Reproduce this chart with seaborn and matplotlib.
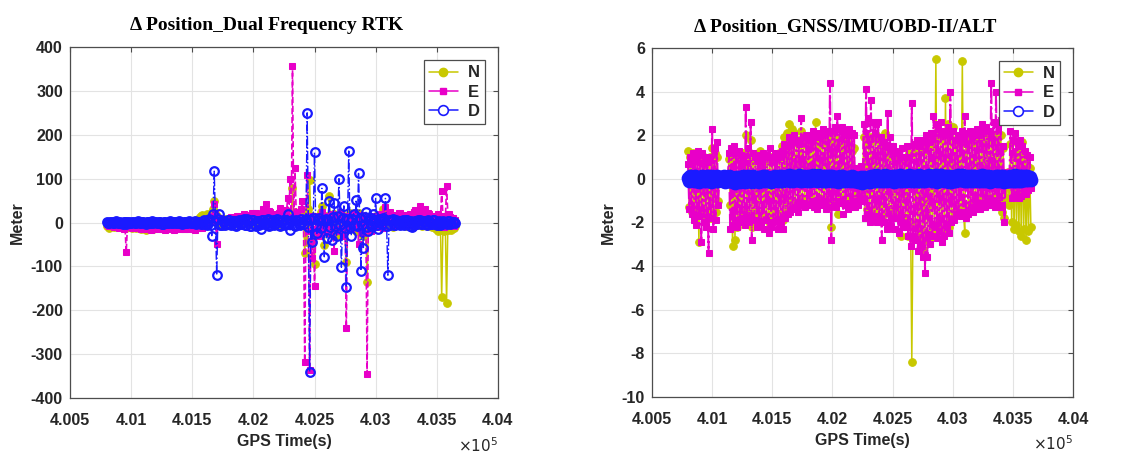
import numpy as np
import pandas as pd
import matplotlib
matplotlib.use("Agg")
import matplotlib.pyplot as plt
import seaborn as sns
from matplotlib.lines import Line2D
from matplotlib.ticker import FuncFormatter, MultipleLocator

# Dual frequency RTK position error (m), one sample every 10 s from 400800 s
rtk_n = [-8, -4, -12, -6, -5, -9, -10, -3, -7, -11, -11, -5, -6, -8, -9, -12, -12, -6, -8, -10,
         -10, -13, -7, -9, -12, -5, -9, -11, -14, -7, -8, -12, -17, -9, -12, -6, -10, -14, -15, -8,
         -9, -11, -12, -6, -8, -13, -11, -7, -7, -10, -10, -5, -13, -9, -8, -12, -9, -6, -11, -9,
         -7, -9, -10, -4, -6, -8, -9, -3, -5, -7, -8, -2, -4, 2, 5, 9, 12, 15, 18, 10,
         10, 14, 20, 6, 8, 15, 25, 30, 50, 22, 15, 4, 5, -3, 8, 2, 3, 7, 6, -2,
         2, 6, 5, -4, -3, 3, 4, -1, 0, 5, 6, -2, -2, 4, 3, 7, 5, -3, -4, 2,
         4, -3, 2, 5, 6, 1, -3, 4, 5, 9, 8, -2, 3, 6, -2, 2, 4, 7, 10, 3,
         5, -3, 8, 12, 3, 6, 12, 20, 20, 9, 6, 15, 78, 22, 25, 10, 18, 4, 5, 12,
         5, 20, -70, -10, -45, 30, 97, 12, 15, -20, -95, 8, 8, -15, -20, 25, 37, -10, -52, 15,
         10, -20, 60, 5, -15, 20, 20, -12, -30, 10, 12, -18, -25, 8, 15, -20, -90, 5, 8, 22,
         -10, 5, 18, -15, -20, 10, 22, -8, 10, -22, -30, 6, 5, -135, -20, 12, 12, -5, -8, 10,
         15, -6, -5, 12, 10, 20, 30, 4, 8, -8, -6, 10, 5, -4, -10, 7, 6, -5, -4, 6,
         8, -4, -6, 5, 5, -7, -8, 4, 7, -5, -3, 6, 6, -4, -5, 5, 4, -6, -7, 3,
         5, -5, -8, 4, 3, -9, -10, 2, 6, -14, -12, -20, -15, -12, -170, -18, -20, -14, -183, -16,
         -15, -10, -18, -12, -12, -8]
rtk_e = [-3, -6, -8, -2, -5, -9, -10, -4, -6, -11, -12, -5, -8, -10, -14, -6, -68, -9, -10, -5,
         -9, -12, -13, -6, -7, -11, -12, -8, -15, -10, -9, -13, -14, -8, -10, -12, -16, -11, -8, -14,
         -12, -9, -15, -11, -10, -14, -13, -8, -16, -12, -9, -15, -14, -10, -12, -16, -15, -9, -11, -13,
         -14, -11, -10, -15, -15, -9, -12, -14, -9, -11, -13, -15, -16, -8, -10, -12, -8, -4, -12, -6,
         -5, -2, 3, 6, 8, 2, 15, 5, 42, 20, -50, 6, 10, 4, 5, 9, 8, 2, 3, 7,
         6, 10, 12, 3, 4, 9, 10, 14, 15, 6, 8, 12, 20, 7, 5, 15, 12, 8, 18, 22,
         10, 14, 22, 9, 8, 16, 15, 20, 30, 12, 42, 18, 12, 26, 25, 14, 10, 18, 20, 8,
         15, 22, 32, 12, 10, 18, 28, 20, 55, 8, 100, 12, 357, 10, 125, 25, 20, 5, 12, 30,
         48, 8, -318, 10, 108, -20, -335, 15, -80, 10, -145, -15, 15, -10, -30, 12, 25, -8, -20, 15,
         10, -12, -25, 8, 20, -10, -65, 12, 15, -15, -20, 8, 25, -12, -30, 10, -240, 15, 12, -10,
         -15, 10, 20, -8, -10, 15, -50, 5, 18, -10, -25, 12, 10, -345, 12, -15, -20, 10, 15, -8,
         15, -6, -10, 12, 20, 5, -12, 18, 35, 10, 8, 20, 25, 6, -5, 14, 18, 8, 10, 22,
         22, 10, 6, 18, 15, 8, -5, 12, 20, 15, 12, 25, 28, 14, 8, 20, 38, 22, 14, 10,
         30, 15, 10, 22, 20, 8, 5, 15, 15, 10, 8, 20, 12, 10, 73, 15, -10, 8, 83, 20,
         20, 12, 5, 10, -8, 6]
rtk_d = [1, -1, -2, 2, 2, 0, -1, 1, 3, -2, -2, 1, 0, -3, 2, 1, -3, 2, 1, -1,
         -1, 2, 2, -2, -2, 1, 3, 0, -1, 2, 1, -2, -3, 1, 2, -1, 0, 3, -2, 1,
         2, -2, -1, 1, 1, -3, -3, 2, 2, -1, -2, 1, 3, -2, -1, 2, 1, -2, -2, 3,
         2, -1, -3, 2, 1, -2, -1, 3, 2, -1, -2, 2, 3, -3, -1, 2, 2, -3, -4, 4,
         5, -3, -6, 4, 8, -5, -30, 20, 117, 4, -120, 8, 20, -6, -5, 3, 4, -5, -3, 6,
         6, -4, -5, 3, 3, -6, -8, 4, 5, -3, -4, 6, 7, -5, -6, 8, 4, -7, -9, 5,
         5, -6, -7, 4, 3, -5, -15, 6, 6, -3, -4, 5, 8, -9, -6, 4, 5, -6, -3, 7,
         4, -5, -8, 3, 6, -4, -5, 6, 20, -3, -17, 4, 5, -6, -8, 5, 3, -4, -6, 8,
         2, -3, 5, 8, 250, -10, -340, 5, -45, 10, 160, -8, -25, 6, 10, -12, 78, 5, -78, 8,
         -35, 6, 50, -10, -40, 12, 45, -8, -30, 15, 100, -5, -102, 10, 38, -12, -148, 8, 163, -10,
         -30, 8, 20, -5, 52, -8, 112, 10, -110, -6, -57, 12, 25, -10, -20, 6, 10, -8, 20, 5,
         55, -6, -15, 8, 5, -4, 10, 6, 55, -8, -120, 5, -5, 4, 8, -6, -6, 5, 4, -3,
         -5, 4, 6, -6, -4, 5, 5, -3, -7, 4, -10, -6, 4, 3, -3, 5, 5, -4, -4, 3,
         3, -4, -5, 6, 4, -3, -3, 5, 5, -4, -6, 2, 3, -5, -4, 3, 2, -2, -3, 4,
         4, -3, -2, 2, 1, -1]

# GNSS/IMU/OBD-II/ALT integrated position error (m), same epochs
fused_n = [1.3, -1.3, 1.0, -1.5, 1.2, -1.6, 0.9, -1.4, 0.8, -2.9, 1.0, -1.6, 1.1, -1.4, 0.7, -1.9, 0.9, -1.5, 1.0, -1.8,
           1.4, -1.8, 1.2, -1.5, 1.0, -1.0, 0.1, -0.1, 0.12, -0.1, 0.1, -0.12, 0.1, -0.1, 0.9, -1.2, 1.0, -3.1, 0.9, -2.8,
           1.0, -2.2, 0.9, -1.9, 1.1, -1.6, 1.2, -1.5, 2.0, -1.6, 1.3, -1.7, 1.8, -2.2, 0.8, -1.5, 0.9, -1.7, 0.8, -1.6,
           1.3, -1.6, 0.7, -1.8, 0.9, -1.7, 0.8, -2.0, 1.0, -1.6, 0.9, -1.7, 1.1, -1.5, 0.9, -1.7, 1.2, -1.6, 1.5, -1.9,
           1.9, -1.5, 2.1, -1.2, 2.5, -1.2, 2.3, -1.0, 2.1, -1.1, 1.7, -1.1, 1.8, -1.0, 2.2, -0.9, 1.6, -1.0, 1.8, -0.9,
           1.6, -0.8, 1.8, -1.0, 1.9, -1.1, 2.6, -1.0, 1.5, -0.9, 1.7, -1.1, 1.6, -0.9, 1.8, -1.0, 1.9, -1.1, 1.7, -2.2,
           1.7, -1.2, 1.9, -1.1, 1.6, -1.6, 1.6, -0.9, 1.8, -1.1, 1.4, -1.0, 1.5, -0.9, 1.6, -1.2, 1.3, -0.8, 1.4, -1.0,
           0.4, -0.6, 0.5, -0.6, 0.3, -0.5, 1.9, -0.6, 2.0, -1.4, 1.7, -1.6, 1.9, -1.5, 1.8, -1.4, 2.0, -1.3, 1.9, -1.2,
           1.7, -1.9, 1.4, -1.6, 2.1, -1.5, 1.0, -1.4, 1.2, -1.6, 1.3, -1.5, 1.0, -1.4, 0.9, -1.7, 0.8, -2.6, 0.9, -1.8,
           0.8, -1.8, 1.0, -2.6, 1.2, -2.0, -8.4, -2.0, 1.2, -2.2, 1.5, -2.7, 1.3, -2.4, 1.5, -3.2, 1.3, -2.8, 1.6, -2.7,
           1.5, -2.7, 1.6, -2.4, 1.9, -2.1, 5.5, -2.1, 1.9, -2.3, 1.8, -2.3, 2.0, -2.4, 3.7, -2.4, 2.5, -2.2, 2.3, -1.9,
           2.4, -1.5, 1.7, -1.2, 1.9, -1.4, 1.6, -1.3, 5.4, -1.5, -2.5, 1.9, 1.7, -1.4, 1.6, -1.1, 1.8, -1.2, 1.6, -1.1,
           1.8, -0.9, 1.9, -1.1, 1.7, -0.9, 2.2, -0.8, 2.1, -1.0, 1.8, -0.9, 1.9, -1.1, 2.0, -0.8, 1.7, -1.0, 1.9, -1.0,
           2.0, -1.5, 1.4, -1.8, 0.2, -0.9, 0.3, -1.2, 1.6, -2.0, 1.2, -2.3, 1.0, -2.1, 0.9, -2.4, 1.2, -2.6, 1.7, -2.3,
           0.8, -2.8, 0.6, -2.4, 0.5, -2.2]
fused_e = [0.7, -1.4, 1.0, -1.6, 1.2, -1.9, 0.9, -2.1, 1.3, -1.7, 1.1, -2.9, 1.2, -2.0, 0.8, -2.2, 1.0, -3.4, 0.9, -1.8,
           2.3, -2.3, 1.4, -1.9, 1.7, -1.2, 0.12, -0.1, 0.15, -0.12, 0.1, -0.15, 0.12, -0.1, 1.2, -2.3, 1.4, -2.1, 1.5, -1.9,
           1.2, -2.2, 1.3, -2.0, 1.1, -1.8, 1.0, -2.1, 3.3, -1.8, 1.4, -2.0, 2.6, -2.8, 1.2, -1.9, 1.0, -2.2, 1.1, -2.0,
           0.9, -2.1, 1.2, -2.3, 1.0, -1.9, 1.1, -2.5, 1.4, -2.2, 1.0, -2.0, 1.2, -1.9, 1.1, -2.3, 1.0, -2.0, 1.3, -2.3,
           1.6, -1.8, 1.5, -1.6, 1.9, -1.5, 1.7, -1.4, 2.0, -1.3, 1.8, -1.5, 1.6, -1.2, 2.8, -1.1, 1.9, -1.3, 2.0, -1.2,
           1.8, -1.2, 2.0, -1.0, 2.2, -1.3, 1.9, -1.4, 2.1, -1.1, 1.9, -1.2, 2.3, -1.0, 2.0, -1.4, 2.2, -1.3, 4.4, -2.8,
           2.2, -1.2, 2.4, -1.3, 2.9, -1.0, 2.3, -1.1, 2.4, -1.6, 2.2, -1.2, 2.0, -1.4, 2.3, -1.3, 2.1, -1.0, 2.0, -1.3,
           0.5, -1.2, 0.4, -0.9, 0.6, -1.0, 2.5, -1.8, 4.1, -1.6, 2.8, -2.0, 3.6, -1.7, 2.6, -1.9, 2.5, -2.0, 2.6, -1.7,
           1.9, -2.8, 1.7, -2.0, 1.5, -2.3, 3.0, -2.1, 1.9, -1.8, 1.5, -2.3, 1.3, -1.8, 1.2, -2.5, 1.0, -2.0, 1.4, -2.2,
           1.0, -2.2, 1.5, -2.6, 1.0, -3.1, 3.5, -2.6, 1.6, -2.8, 1.8, -3.3, 1.5, -3.0, 1.8, -3.6, 1.7, -4.3, 2.0, -3.6,
           1.7, -3.0, 2.1, -2.6, 2.9, -2.2, 2.5, -2.7, 2.3, -2.4, 2.6, -2.9, 2.2, -2.6, 2.0, -2.2, 2.4, -2.5, 4.0, -2.0,
           2.2, -1.9, 1.8, -1.6, 2.0, -1.5, 1.8, -1.7, 2.2, -1.5, 2.9, -1.8, 2.1, -1.6, 2.2, -1.3, 1.9, -1.5, 2.0, -1.4,
           2.3, -1.2, 2.0, -1.4, 2.5, -1.1, 2.2, -1.3, 2.4, -1.0, 2.2, -1.2, 4.4, -1.0, 2.6, -1.3, 4.0, -1.1, 2.5, -1.3,
           2.7, -1.2, 1.5, -2.0, 0.3, -0.2, 0.25, -0.3, 2.2, -0.9, 1.8, -0.8, 2.1, -0.7, 1.6, -0.9, 1.8, -0.8, 1.5, -0.6,
           1.3, -0.7, 1.1, -0.5, 1.0, -0.4]
fused_d = [0.05, -0.10, 0.12, -0.06, 0.10, -0.12, 0.14, -0.08, 0.06, -0.14, 0.10, -0.05, 0.12, -0.10, 0.08, -0.12, 0.15, -0.06, 0.10, -0.15,
           0.12, -0.08, 0.06, -0.12, 0.14, -0.10, 0.08, -0.05, 0.10, -0.12, 0.12, -0.14, 0.06, -0.10, 0.14, -0.08, 0.10, -0.16, 0.05, -0.18,
           0.08, -0.12, 0.10, -0.16, 0.06, -0.10, 0.12, -0.14, 0.10, -0.08, 0.14, -0.12, 0.08, -0.15, 0.12, -0.10, 0.04, -0.12, 0.10, -0.14,
           0.10, -0.06, 0.12, -0.08, 0.14, -0.12, 0.08, -0.10, 0.06, -0.14, 0.10, -0.10, 0.12, -0.06, 0.10, -0.08, 0.15, -0.10, 0.12, -0.08,
           0.10, -0.06, 0.14, -0.05, 0.16, -0.10, 0.12, -0.08, 0.14, -0.04, 0.10, -0.06, 0.18, -0.08, 0.12, -0.10, 0.14, -0.06, 0.10, -0.08,
           0.12, -0.10, 0.14, -0.06, 0.16, -0.05, 0.12, -0.08, 0.18, -0.06, 0.14, -0.08, 0.10, -0.12, 0.12, -0.10, 0.15, -0.06, 0.12, -0.08,
           0.12, -0.10, 0.10, -0.12, 0.08, -0.14, 0.12, -0.12, 0.14, -0.08, 0.10, -0.10, 0.10, -0.06, 0.08, -0.10, 0.12, -0.12, 0.10, -0.10,
           0.06, -0.14, 0.04, -0.16, 0.08, -0.18, 0.10, -0.16, 0.05, -0.14, 0.10, -0.14, 0.12, -0.10, 0.14, -0.10, 0.16, -0.08, 0.12, -0.08,
           0.14, -0.10, 0.12, -0.12, 0.18, -0.08, 0.14, -0.06, 0.10, -0.10, 0.12, -0.14, 0.14, -0.12, 0.12, -0.08, 0.16, -0.10, 0.14, -0.10,
           0.12, -0.08, 0.10, -0.06, 0.18, -0.08, 0.14, -0.10, 0.12, -0.10, 0.14, -0.08, 0.16, -0.10, 0.14, -0.12, 0.10, -0.08, 0.12, -0.06,
           0.18, -0.06, 0.14, -0.08, 0.12, -0.10, 0.16, -0.14, 0.14, -0.12, 0.16, -0.06, 0.10, -0.08, 0.14, -0.12, 0.12, -0.14, 0.14, -0.16,
           0.10, -0.10, 0.12, -0.08, 0.16, -0.06, 0.14, -0.06, 0.18, -0.08, 0.14, -0.10, 0.12, -0.10, 0.14, -0.08, 0.12, -0.08, 0.14, -0.06,
           0.10, -0.08, 0.12, -0.12, 0.16, -0.10, 0.14, -0.08, 0.12, -0.10, 0.12, -0.14, 0.10, -0.12, 0.10, -0.06, 0.12, -0.08, 0.14, -0.10,
           0.12, -0.12, 0.14, -0.16, 0.08, -0.12, 0.10, -0.10, 0.14, -0.08, 0.12, -0.12, 0.16, -0.10, 0.14, -0.08, 0.12, -0.08, 0.14, -0.06,
           0.14, -0.06, 0.12, -0.04, 0.10, -0.05]

T0, DT = 400800, 10
gps_time = T0 + DT * np.arange(len(rtk_n))
for series in (rtk_e, rtk_d, fused_n, fused_e, fused_d):
    assert len(series) == len(gps_time), len(series)

titles = ["Δ Position_Dual Frequency RTK", "Δ Position_GNSS/IMU/OBD-II/ALT"]
x_label = "GPS Time(s)"
y_label = "Meter"
components = ["N", "E", "D"]

N_COLOR = "#c8c800"
E_COLOR = "#e800c8"
D_COLOR = "#1a1aff"
INK = "#262626"
FRAME = "#4d4d4d"

sns.set_theme(style="whitegrid")
plt.rcParams["font.family"] = ["Liberation Sans", "DejaVu Sans"]
plt.rcParams["axes.edgecolor"] = FRAME
plt.rcParams["axes.linewidth"] = 0.9
plt.rcParams["grid.color"] = "#e3e3e3"
plt.rcParams["grid.linewidth"] = 0.8

fig = plt.figure(figsize=(11.41, 4.54), dpi=100)
fig.patch.set_facecolor("white")
ax_rtk = fig.add_axes([0.0613, 0.1233, 0.3751, 0.7731])
ax_fus = fig.add_axes([0.5714, 0.1256, 0.3690, 0.7687])


def draw_panel(ax, n, e, d, styles, e_lw, dsize, dmew):
    df = pd.DataFrame({"t": gps_time, "N": n, "E": e, "D": d})
    sns.lineplot(data=df, x="t", y="N", ax=ax, color=N_COLOR,
                 linestyle=styles[0], linewidth=1.1, marker="o", markersize=5.5,
                 markeredgecolor=N_COLOR, markerfacecolor=N_COLOR,
                 estimator=None, sort=False, legend=False)
    sns.lineplot(data=df, x="t", y="E", ax=ax, color=E_COLOR,
                 linestyle=styles[1], linewidth=e_lw, marker="s", markersize=4.5,
                 markeredgecolor=E_COLOR, markerfacecolor=E_COLOR,
                 estimator=None, sort=False, legend=False)
    sns.lineplot(data=df, x="t", y="D", ax=ax, color=D_COLOR,
                 linestyle=styles[2], linewidth=1.0, marker="o", markersize=dsize,
                 markeredgecolor=D_COLOR, markeredgewidth=dmew,
                 markerfacecolor="none", estimator=None, sort=False, legend=False)
    # legend keys with the thin default marker outline
    keys = [
        Line2D([], [], color=N_COLOR, lw=1.1, ls="-", marker="o", ms=6,
               mec=N_COLOR, mfc=N_COLOR),
        Line2D([], [], color=E_COLOR, lw=1.1, ls="-", marker="s", ms=5,
               mec=E_COLOR, mfc=E_COLOR),
        Line2D([], [], color=D_COLOR, lw=1.1, ls="-", marker="o", ms=7,
               mec=D_COLOR, mfc="white", mew=1.2),
    ]
    leg = ax.legend(keys, components, loc="upper right", frameon=True,
                    fancybox=False, edgecolor=FRAME, framealpha=1,
                    prop={"weight": "bold", "size": 12}, handlelength=1.7,
                    handletextpad=0.6, borderpad=0.3, labelspacing=0.25,
                    borderaxespad=0.8)
    leg.get_frame().set_linewidth(0.9)


draw_panel(ax_rtk, rtk_n, rtk_e, rtk_d, ["-", "--", "-."], 1.2, 6.2, 1.6)
draw_panel(ax_fus, fused_n, fused_e, fused_d, ["-", "-.", "-"], 1.5, 7.5, 2.4)

for ax, title, ylim, ystep in [(ax_rtk, titles[0], (-400, 400), 100),
                               (ax_fus, titles[1], (-10, 6), 2)]:
    ax.set_xlim(400500, 404000)
    ax.set_ylim(*ylim)
    ax.xaxis.set_major_locator(MultipleLocator(500))
    ax.yaxis.set_major_locator(MultipleLocator(ystep))
    ax.xaxis.set_major_formatter(FuncFormatter(lambda v, p: f"{v / 1e5:g}"))
    ax.yaxis.set_major_formatter(FuncFormatter(lambda v, p: f"{v:g}"))
    ax.tick_params(axis="both", which="major", direction="in", length=3.5,
                   width=0.8, color=FRAME, top=True, right=True,
                   labelsize=11.5, labelcolor=INK)
    ax.tick_params(axis="x", pad=11)
    ax.tick_params(axis="y", pad=5)
    for lab in ax.get_xticklabels() + ax.get_yticklabels():
        lab.set_fontweight("bold")
    ax.set_xlabel(x_label, fontsize=11.5, fontweight="bold", color=INK, labelpad=4)
    ax.set_ylabel(y_label, fontsize=11.5, fontweight="bold", color=INK, labelpad=4)
    ax.set_title(title, fontfamily=["Liberation Serif", "DejaVu Serif"],
                 fontweight="bold", fontsize=14, x=0.46, pad=12, color="black")
    ax.grid(True, which="major")
    ax.set_axisbelow(True)
    for sp in ax.spines.values():
        sp.set_visible(True)
        sp.set_color(FRAME)
    ax.text(1.0, -0.108, r"$\times10^{5}$", transform=ax.transAxes,
            ha="right", va="top", fontsize=11, color=INK)

fig.savefig("out.png", dpi=100, facecolor="white")
